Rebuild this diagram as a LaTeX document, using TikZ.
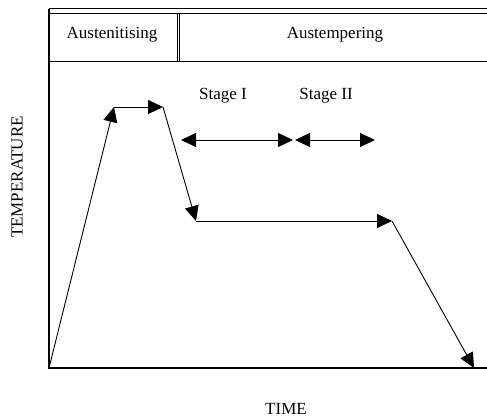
\documentclass[tikz,border=0pt]{standalone}
\usepackage{fontspec}
\setmainfont{Liberation Serif}
\usetikzlibrary{arrows.meta}

\begin{document}
\begin{tikzpicture}[x=1pt, y=-1pt, >={Triangle[length=15pt, width=14pt]},
  lbl/.style={font=\fontsize{17}{20}\selectfont, inner sep=0pt},
  path/.style={line width=0.9pt}]
\useasboundingbox (0, 0) rectangle (487, 419);

% Frame and header
\draw[line width=1pt] (49, 9) -- (487, 9);
\draw[line width=1pt] (49, 14) -- (487, 14);
\draw[line width=1pt] (49, 62) -- (487, 62);
\draw[line width=1pt] (177, 14) -- (177, 62);
\draw[line width=1pt] (179, 14) -- (179, 62);

\node[lbl] (aus) at (112, 35) {Austenitising};
\node[lbl] (temp) at (335, 35) {Austempering};

% Axes
\coordinate (o) at (49, 368);
\coordinate (top) at (49, 9);
\coordinate (end) at (487, 368);
\draw[line width=1.2pt] (top) -- (o) -- (end);

\node[lbl, rotate=90] (ylab) at (17, 177) {TEMPERATURE};
\node[lbl] (xlab) at (286, 409) {TIME};

% Heat treatment path
\coordinate (a) at (114, 107);
\coordinate (b) at (163, 107);
\coordinate (c) at (196, 221);
\coordinate (d) at (392, 221);
\coordinate (e) at (474, 368);

\draw[->, path] (o) -- (a);
\draw[->, path] (a) -- (b);
\draw[->, path] (b) -- (c);
\draw[->, path] (c) -- (d);
\draw[->, path] (d) -- (e);

% Stages
\node[lbl] (st1) at (223, 96) {Stage I};
\node[lbl] (st2) at (326, 96) {Stage II};

\coordinate (s1l) at (181, 140);
\coordinate (s1r) at (293, 140);
\coordinate (s2l) at (295, 140);
\coordinate (s2r) at (375, 140);
\draw[<->, path] (s1l) -- (s1r);
\draw[<->, path] (s2l) -- (s2r);

\end{tikzpicture}
\end{document}
